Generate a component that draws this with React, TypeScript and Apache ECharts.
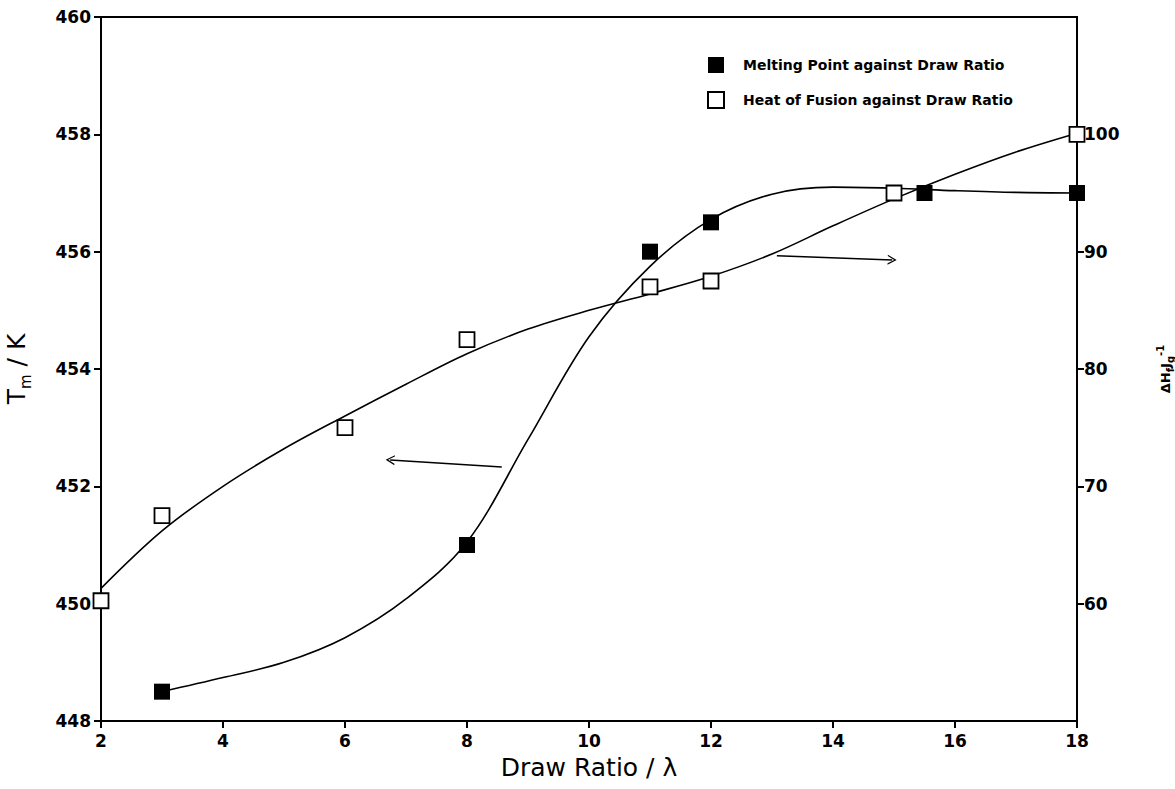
import React, { useEffect, useRef } from "react";
import * as echarts from "echarts";

// Measured points
const meltX = [3, 8, 11, 12, 15.5, 18];
const meltY = [448.5, 451, 456, 456.5, 457, 457];
const heatX = [2, 3, 6, 8, 11, 12, 15, 18];
const heatY = [60.25, 67.5, 75, 82.5, 87, 87.5, 95, 100];

// Fitted curves
const meltCurveX = [3, 4, 5, 6, 7, 8, 9, 10, 11, 12, 13, 14, 15, 16, 17, 18];
const meltCurveY = [448.5, 448.74, 449.0, 449.42, 450.08, 451.05, 452.8, 454.55, 455.75, 456.55, 456.98, 457.1, 457.08, 457.04, 457.01, 457.0];
const heatCurveX = [2, 3, 4, 5, 6, 7, 8, 9, 10, 11, 12, 13, 14, 15, 16, 17, 18];
const heatCurveY = [61.3, 66.2, 70, 73.2, 76.0, 78.7, 81.3, 83.4, 85.0, 86.4, 87.9, 89.8, 92.2, 94.5, 96.6, 98.5, 100.1];

// Axis ticks
const rightTicks = [60, 70, 80, 90, 100];

// Arrow annotations (data coords: [x, y] on left axis)
const leftArrow = [[8.57, 452.33], [6.74, 452.45]];
const rightArrow = [[13.08, 455.93], [14.97, 455.86]];

const FONT = "DejaVu Sans";
const chevron = "path://M5,0 L10,10 L8.6,10 L5,2.8 L1.4,10 L0,10 Z";

export default function App() {
  const ref = useRef<HTMLDivElement>(null);
  useEffect(() => {
    const chart = echarts.init(ref.current!, null, { renderer: "svg" });
    const zip = (xs: number[], ys: number[]) => xs.map((x, i) => [x, ys[i]]);
    const outTick = { show: true, inside: false, length: 7, lineStyle: { color: "#000", width: 2 } };
    const rightTick = { ...outTick, customValues: rightTicks };
    const option: any = {
      animation: false,
      backgroundColor: "#fff",
      textStyle: { fontFamily: FONT, color: "#000" },
      grid: {
        left: 101, right: 98, top: 17, bottom: 68,
        containLabel: false, outerBoundsMode: "none",
        show: true, borderColor: "#000", borderWidth: 2, backgroundColor: "transparent",
      },
      legend: {
        orient: "vertical",
        left: 707,
        top: 57,
        padding: 0,
        itemWidth: 16,
        itemHeight: 16,
        itemGap: 18,
        data: ["Melting Point against Draw Ratio", "Heat of Fusion against Draw Ratio"],
        textStyle: { fontFamily: FONT, fontSize: 14, fontWeight: "bold", color: "#000", padding: [0, 0, 0, 14] },
      },
      xAxis: {
        type: "value",
        position: "bottom",
        min: 2,
        max: 18,
        interval: 2,
        name: "Draw Ratio / λ",
        nameLocation: "middle",
        nameGap: 34,
        nameTextStyle: { fontFamily: FONT, fontSize: 25, color: "#000" },
        axisLine: { show: true, onZero: false, lineStyle: { color: "#000", width: 2 } },
        axisTick: outTick,
        axisLabel: { color: "#000", fontSize: 17, fontWeight: "bold", fontFamily: FONT, margin: 11 },
        splitLine: { show: false },
      },
      yAxis: [
        {
          type: "value",
          min: 448,
          max: 460,
          interval: 2,
          position: "left",
          name: "{a|T}{s|m}{a| / K}",
          nameLocation: "middle",
          nameRotate: 90,
          nameGap: 68,
          nameTextStyle: {
            rich: {
              a: { fontFamily: FONT, fontSize: 25, color: "#000", lineHeight: 34, verticalAlign: "middle" },
              s: { fontFamily: FONT, fontSize: 15, color: "#000", lineHeight: 34, verticalAlign: "bottom", padding: [10, 0, 0, 0] },
            },
          },
          axisLine: { show: true, onZero: false, lineStyle: { color: "#000", width: 2 } },
          axisTick: outTick,
          axisLabel: { color: "#000", fontSize: 17, fontWeight: "bold", fontFamily: FONT, margin: 10 },
          splitLine: { show: false },
        },
        {
          type: "value",
          min: 50,
          max: 110,
          interval: 10,
          position: "right",
          name: "{a|ΔH}{s|f}{a|J}{s|g}{p|-1}",
          nameLocation: "middle",
          nameRotate: 90,
          nameGap: 78,
          nameTextStyle: {
            rich: {
              a: { fontFamily: FONT, fontSize: 13, fontWeight: "bold", color: "#000", lineHeight: 20, verticalAlign: "middle" },
              s: { fontFamily: FONT, fontSize: 10, fontWeight: "bold", color: "#000", lineHeight: 20, verticalAlign: "bottom" },
              p: { fontFamily: FONT, fontSize: 10, fontWeight: "bold", color: "#000", lineHeight: 20, verticalAlign: "top" },
            },
          },
          axisLine: { show: true, onZero: false, lineStyle: { color: "#000", width: 2 } },
          axisTick: rightTick,
          axisLabel: { color: "#000", fontSize: 17, fontWeight: "bold", fontFamily: FONT, margin: 7, customValues: rightTicks },
          splitLine: { show: false },
        },
      ],
      series: [
        {
          type: "line",
          name: "meltCurve",
          data: zip(meltCurveX, meltCurveY),
          yAxisIndex: 0,
          smooth: 0.35,
          symbol: "none",
          lineStyle: { color: "#000", width: 1.6 },
          silent: true,
          z: 2,
          markLine: {
            silent: true,
            symbol: ["none", chevron],
            symbolSize: [10, 9],
            label: { show: false },
            lineStyle: { color: "#000", width: 1.5, type: "solid" },
            data: [
              [{ coord: leftArrow[0] }, { coord: leftArrow[1] }],
              [{ coord: rightArrow[0] }, { coord: rightArrow[1] }],
            ],
          },
        },
        {
          type: "line",
          name: "heatCurve",
          data: zip(heatCurveX, heatCurveY),
          yAxisIndex: 1,
          smooth: 0.35,
          symbol: "none",
          lineStyle: { color: "#000", width: 1.6 },
          silent: true,
          z: 2,
        },
        {
          type: "scatter",
          name: "Melting Point against Draw Ratio",
          data: zip(meltX, meltY),
          yAxisIndex: 0,
          symbol: "rect",
          symbolSize: 16,
          itemStyle: { color: "#000", borderColor: "#000", borderWidth: 0, opacity: 1 },
          z: 5,
        },
        {
          type: "scatter",
          name: "Heat of Fusion against Draw Ratio",
          data: zip(heatX, heatY),
          yAxisIndex: 1,
          symbol: "rect",
          symbolSize: 15,
          itemStyle: { color: "#fff", borderColor: "#000", borderWidth: 1.8, opacity: 1 },
          z: 5,
        },
      ],
    };
    chart.setOption(option);
    return () => chart.dispose();
  }, []);
  return <div ref={ref} style={{ width: 1175, height: 789, position: "absolute", left: 0, top: 0 }} />;
}
